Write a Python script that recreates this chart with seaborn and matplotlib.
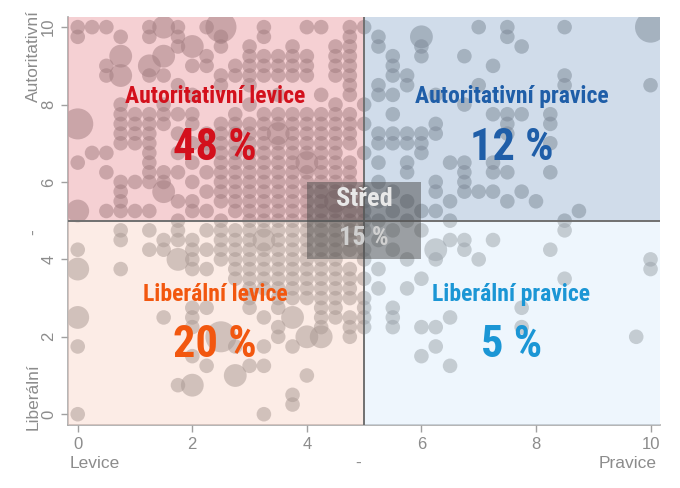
import matplotlib
matplotlib.use("Agg")
import matplotlib.pyplot as plt
from matplotlib import font_manager
from matplotlib.patches import Rectangle
import pandas as pd
import seaborn as sns

# y level of each row of answers and the x positions found on that row (one respondent group each)
y_levels = [10, 9.75, 9.5, 9.25, 9.0, 8.75, 8.5, 8.25, 8.0, 7.75, 7.5, 7.25, 7.0, 6.75, 6.5,
            6.25, 6.0, 5.75, 5.5, 5.25, 5.0, 4.75, 4.5, 4.25, 4.0, 3.75, 3.5, 3.25, 3.0,
            2.75, 2.5, 2.25, 2.0, 1.75, 1.5, 1.25, 1.0, 0.75, 0.5, 0.25, 0.0]
x_by_level = [
    [0, 0.25, 0.5, 1.25, 1.75, 2.25, 3.25, 4.0, 4.25, 4.75, 5.0, 7.0, 7.5, 8.5],
    [0, 0.75, 1.25, 1.75, 2.5, 3.25, 4.75, 5.25, 7.5],
    [1.75, 2.5, 3.0, 3.75, 4.5, 4.75, 5.25, 6.0, 7.75],
    [2.25, 3.0, 3.25, 3.5, 3.75, 4.0, 4.5, 4.75, 5.5, 6.0, 6.75],
    [0.5, 2.0, 2.25, 2.75, 3.0, 3.25, 3.5, 3.75, 4.0, 4.5, 4.75, 5.5, 7.25],
    [0.5, 1.25, 1.5, 2.5, 2.75, 3.0, 3.25, 3.5, 3.75, 4.0, 4.5, 4.75, 5.5, 5.75, 8.5],
    [1.75, 2.5, 3.0, 4.75, 5.25, 5.75, 7.0, 8.5, 10],
    [2.0, 3.5, 4.25, 4.75, 5.25, 5.5, 6.25],
    [0.75, 1.5, 3.0, 4.5, 5.0, 6.75],
    [0.75, 1.0, 1.25, 1.5, 1.75, 2.0, 2.75, 3.25, 3.5, 3.75, 4.0, 4.25, 4.5, 4.75, 5.5, 7.25, 7.5, 7.75, 8.25],
    [0.75, 1.0, 1.25, 1.5, 2.0, 2.5, 2.75, 3.0, 3.25, 3.5, 3.75, 4.0, 4.25, 4.5, 4.75, 5.0, 6.25, 7.5, 8.25],
    [0.75, 1.0, 1.25, 1.75, 2.25, 2.5, 2.75, 3.0, 3.25, 3.75, 4.0, 4.25, 4.5, 4.75, 5.25, 5.5, 5.75, 6.0, 6.25, 7.5],
    [0.75, 1.0, 1.25, 2.0, 2.25, 2.5, 2.75, 3.0, 3.25, 3.5, 3.75, 4.0, 4.25, 4.5, 4.75, 5.25, 5.5, 5.75, 6.0, 8.25],
    [0.25, 0.5, 1.25, 1.75, 2.25, 2.5, 2.75, 3.0, 3.25, 3.5, 3.75, 4.0, 4.25, 4.5, 5.0, 6.0],
    [0, 1.25, 2.0, 2.5, 2.75, 3.0, 3.25, 3.5, 3.75, 4.25, 4.5, 4.75, 5.25, 5.75, 6.5, 6.75, 7.25],
    [0.5, 1.25, 1.5, 1.75, 2.25, 2.5, 2.75, 3.0, 3.25, 3.5, 3.75, 4.0, 4.25, 4.5, 4.75, 5.75, 6.75, 7.25, 7.5, 8.25],
    [0.75, 1.0, 1.25, 1.5, 2.0, 2.5, 2.75, 3.0, 3.25, 3.5, 3.75, 4.0, 4.25, 4.5, 4.75, 5.25, 6.25, 6.75],
    [0.75, 2.25, 2.5, 2.75, 3.0, 3.25, 3.5, 3.75, 4.0, 4.25, 4.5, 4.75, 5.0, 5.5, 6.25, 6.75, 7.0, 7.25, 7.75],
    [0.75, 1.75, 2.0, 2.5, 2.75, 3.0, 3.25, 3.5, 3.75, 4.0, 4.25, 4.75, 5.0, 5.25, 5.75, 6.5, 7.5, 8.0],
    [0.5, 0.75, 1.0, 1.25, 2.0, 2.25, 2.75, 3.0, 3.25, 3.5, 3.75, 4.0, 4.25, 4.5, 4.75, 5.0, 5.5, 6.0, 6.25, 8.75],
    [1.75, 2.5, 3.0, 3.25, 3.5, 3.75, 4.0, 4.25, 4.5, 4.75, 5.0, 5.25, 5.75, 6.5, 8.5],
    [0.75, 1.25, 1.75, 2.25, 2.5, 2.75, 3.0, 3.25, 3.5, 3.75, 4.0, 4.25, 4.5, 4.75, 5.0, 5.5, 6.0, 8.5],
    [0.75, 1.5, 1.75, 2.0, 2.5, 2.75, 3.0, 3.5, 3.75, 4.0, 4.25, 4.5, 4.75, 5.25, 6.5, 6.75, 7.25],
    [0, 1.25, 1.5, 2.0, 2.25, 2.5, 2.75, 3.0, 3.25, 3.5, 3.75, 4.0, 4.25, 4.5, 4.75, 5.0, 5.5, 6.75, 8.25],
    [2.0, 2.5, 2.75, 3.0, 3.25, 3.5, 3.75, 4.0, 4.25, 4.5, 5.0, 5.75, 6.25, 7.0, 10],
    [0.75, 2.0, 2.25, 2.75, 3.0, 3.25, 3.5, 3.75, 4.0, 4.25, 4.5, 4.75, 5.25, 10],
    [2.75, 3.0, 3.25, 3.5, 3.75, 4.0, 4.25, 4.5, 4.75, 5.0, 6.0, 8.5],
    [3.0, 3.25, 3.5, 3.75, 4.0, 4.25, 4.5, 4.75, 5.25, 5.75],
    [3.0, 3.5, 3.75, 4.0, 4.25, 4.5, 4.75, 5.0],
    [2.0, 2.25, 3.0, 3.5, 4.25, 4.5, 5.0, 5.5, 7.75],
    [1.5, 2.0, 3.25, 4.25, 4.5, 4.75, 5.0, 5.5, 6.5],
    [2.0, 3.5, 4.25, 4.75, 5.0, 5.5, 6.0, 6.25, 7.75],
    [3.5, 4.75, 9.75],
    [0, 2.75, 3.25, 3.75, 6.25],
    [2.0, 6.0],
    [2.25, 3.0, 3.25, 6.5],
    [4.0],
    [1.75],
    [3.75],
    [3.75],
    [0, 3.25],
]

# groups with several respondents (drawn as bigger bubbles)
big_x = [2.5, 10, 6.0, 0.75, 1.5, 1.25, 0.75, 0, 1.5, 0, 6.25, 1.75, 0, 0, 3.75, 2.5, 4.0, 4.25, 2.75, 2.0, 1.5, 2.0, 3.5, 4.0, 3.25, 4.5]
big_y = [10, 10, 9.75, 9.25, 9.25, 9.0, 8.75, 7.5, 5.75, 5.25, 4.25, 4.0, 3.75, 2.5, 2.5, 2.0, 2.0, 2.0, 1.0, 0.75, 10, 9.5, 7.25, 6.5, 4.5, 5.5]
big_n = [3, 3, 2, 2, 2, 2, 2, 3, 2, 2, 2, 2, 2, 2, 2, 3, 2, 2, 2, 2, 2, 2, 2, 2, 2, 2]

quadrant_names = ["Autoritativní levice", "Autoritativní pravice", "Liberální levice", "Liberální pravice"]
quadrant_shares = ["48 %", "12 %", "20 %", "5 %"]
centre_name = "Střed"
centre_share = "15 %"

xs, ys, ns = [], [], []
for y, row in zip(y_levels, x_by_level):
    for x in row:
        xs.append(x)
        ys.append(y)
        ns.append(1)
xs += big_x
ys += big_y
ns += big_n
df = pd.DataFrame({"x": xs, "y": ys, "n": ns})

# pick a narrow bold face for the quadrant labels if one is installed
installed = {f.name for f in font_manager.fontManager.ttflist}
narrow = "DejaVu Sans"
for cand in ["Liberation Sans Narrow", "DejaVu Sans Condensed", "Roboto Condensed", "Open Sans Condensed"]:
    if cand in installed:
        narrow = cand
        break
axis_font = "Liberation Sans" if "Liberation Sans" in installed else "DejaVu Sans"

sns.set_theme(style="white")
plt.rcParams['font.family'] = [axis_font, 'DejaVu Sans']

fig = plt.figure(figsize=(6.8, 4.88), dpi=100)
ax = fig.add_axes([0.1, 0.129, 0.871, 0.836])

sns.scatterplot(data=df, x="x", y="y", size="n", sizes={1: 110, 2: 270, 3: 500},
                color="#666666", alpha=0.5, linewidth=0, legend=False, ax=ax, zorder=2)

x0, x1 = -0.17, 10.17
y0, y1 = -0.28, 10.26
ax.set_xlim(x0, x1)
ax.set_ylim(y0, y1)

# tinted quadrants laid over the bubbles
quad_colors = ["#e9979e", "#97b2d1", "#f9d5c8", "#daecfb"]
quad_boxes = [(x0, 5, 5 - x0, y1 - 5), (5, 5, x1 - 5, y1 - 5),
              (x0, y0, 5 - x0, 5 - y0), (5, y0, x1 - 5, 5 - y0)]
for (bx, by, bw, bh), c in zip(quad_boxes, quad_colors):
    ax.add_patch(Rectangle((bx, by), bw, bh, facecolor=c, edgecolor="none", alpha=0.45, zorder=3))

ax.axvline(5, color="#707070", lw=1.4, zorder=4)
ax.axhline(5, color="#707070", lw=1.4, zorder=4)

# centre box
ax.add_patch(Rectangle((4, 4), 2, 2, facecolor="#4a4a4a", edgecolor="none", alpha=0.5, zorder=5))

title_font = dict(family=[narrow, "DejaVu Sans"], fontstretch="condensed", fontweight="bold",
                  ha="center", va="center", zorder=6)
text_colors = ["#d3101c", "#1f5ea8", "#f2570f", "#1b96d5"]
text_pos = [(2.4, 8.2, 6.87), (7.57, 8.2, 6.87), (2.4, 3.1, 1.78), (7.57, 3.1, 1.78)]
for name, share, c, (tx, ty, sy) in zip(quadrant_names, quadrant_shares, text_colors, text_pos):
    ax.text(tx, ty, name, color=c, fontsize=17, **title_font)
    ax.text(tx, sy, share, color=c, fontsize=32, **title_font)

ax.text(5, 5.55, centre_name, color="#e8e8e8", fontsize=19, **title_font)
ax.text(5, 4.55, centre_share, color="#d0d0d0", fontsize=19, **title_font)

ax.set_xticks([0, 2, 4, 6, 8, 10])
ax.set_yticks([0, 2, 4, 6, 8, 10])
ax.set_xlabel("")
ax.set_ylabel("")
ax.tick_params(axis="both", colors="#a0a0a0", labelcolor="#8c8c8c", labelsize=12,
               length=5, width=1, direction="out", left=True, bottom=True)
for lab in ax.get_yticklabels():
    lab.set_rotation(90)
    lab.set_va("center")
for side in ["top", "right"]:
    ax.spines[side].set_visible(False)
for side in ["left", "bottom"]:
    ax.spines[side].set_color("#a8a8a8")
    ax.spines[side].set_linewidth(1.2)

lab_style = dict(color="#8c8c8c", fontsize=12.5)
fig.text(0.049, 0.98, "Autoritativní", rotation=90, ha="center", va="top", **lab_style)
fig.text(0.049, 0.525, "-", rotation=90, ha="center", va="center", **lab_style)
fig.text(0.049, 0.119, "Liberální", rotation=90, ha="center", va="bottom", **lab_style)
fig.text(0.103, 0.051, "Levice", ha="left", va="center", **lab_style)
fig.text(0.527, 0.051, "-", ha="center", va="center", **lab_style)
fig.text(0.966, 0.051, "Pravice", ha="right", va="center", **lab_style)

fig.savefig("out.png", dpi=100)
